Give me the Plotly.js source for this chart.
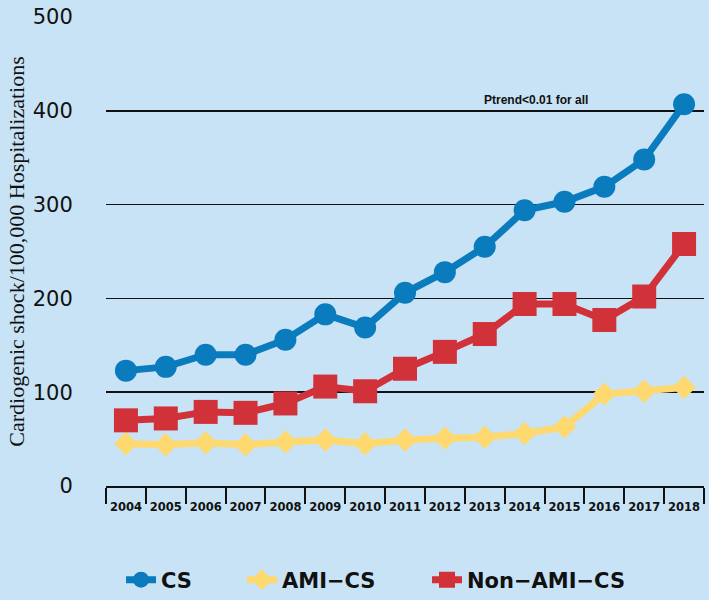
<!DOCTYPE html>
<html>
<head>
<meta charset="utf-8">
<script src="https://cdn.plot.ly/plotly-3.0.1.min.js"></script>
<style>html,body{margin:0;padding:0;background:#c8e3f5;}#chart{width:709px;height:600px;}</style>
</head>
<body>
<div id="chart"></div>
<script>
const years = ['2004','2005','2006','2007','2008','2009','2010','2011','2012','2013','2014','2015','2016','2017','2018'];
const csValues = [123, 127, 140, 140, 156, 183, 169, 206, 228, 255, 294, 303, 319, 348, 407];
const amiCsValues = [45, 44, 46, 44, 47, 49, 45, 49, 51, 52, 56, 63, 98, 101, 105];
const nonAmiCsValues = [70, 72, 79, 78, 88, 106, 101, 125, 143, 162, 194, 194, 177, 202, 258];
const seriesNames = ['CS', 'AMI\u2212CS', 'Non\u2212AMI\u2212CS'];
const yTicks = [0, 100, 200, 300, 400, 500];
const noteText = 'Ptrend<0.01 for all';

const bg = '#c8e3f5';
const traces = [
  {x: years, y: csValues, name: seriesNames[0], type: 'scatter', mode: 'lines+markers',
   line: {color: '#0a7bbd', width: 7}, marker: {symbol: 'circle', size: 22, color: '#0a7bbd'},
   cliponaxis: false, legend: 'legend'},
  {x: years, y: amiCsValues, name: seriesNames[1], type: 'scatter', mode: 'lines+markers',
   line: {color: '#fed96f', width: 7}, marker: {symbol: 'diamond', size: 18, color: '#fed96f'},
   cliponaxis: false, legend: 'legend2'},
  {x: years, y: nonAmiCsValues, name: seriesNames[2], type: 'scatter', mode: 'lines+markers',
   line: {color: '#d13139', width: 7}, marker: {symbol: 'square', size: 24, color: '#d13139'},
   cliponaxis: false, legend: 'legend3'}
];
const data = [traces[1], traces[2], traces[0]];

const legFont = {family: 'DejaVu Sans', size: 21, color: '#111', weight: 'bold'};
function leg(xpx) {
  return {xref: 'container', yref: 'container', x: xpx / 709, y: 1 - 580 / 600,
          xanchor: 'left', yanchor: 'middle', orientation: 'h', bgcolor: 'rgba(0,0,0,0)',
          font: legFont, borderwidth: 0};
}

const layout = {
  width: 709, height: 600,
  paper_bgcolor: bg, plot_bgcolor: bg,
  margin: {l: 106, r: 5, t: 17, b: 114},
  showlegend: true,
  legend: leg(121),
  legend2: leg(242),
  legend3: leg(427),
  xaxis: {
    type: 'category', categoryarray: years, range: [-0.5, 14.5],
    tickson: 'boundaries', ticks: 'outside', ticklen: 16, tickwidth: 2, tickcolor: '#111',
    showline: true, linecolor: '#111', linewidth: 2, showgrid: false, zeroline: false,
    tickangle: 0,
    tickfont: {family: 'DejaVu Sans', size: 11.5, color: '#111', weight: 'bold'},
    ticklabelstandoff: 9, fixedrange: true
  },
  yaxis: {
    range: [0, 500], tickvals: yTicks, ticktext: yTicks.map(String),
    showgrid: true, gridcolor: '#111', gridwidth: 1.5, zeroline: false, showline: false,
    ticks: 'outside', ticklen: 28, tickcolor: 'rgba(0,0,0,0)',
    tickfont: {family: 'DejaVu Sans', size: 21, color: '#111'},
    title: {text: 'Cardiogenic shock/100,000 Hospitalizations',
            font: {family: 'Liberation Serif', size: 22, color: '#111'}, standoff: 2},
    fixedrange: true
  },
  annotations: [{
    text: noteText, xref: 'paper', yref: 'y', x: (536 - 106) / 598, y: 411,
    showarrow: false, xanchor: 'center', yanchor: 'middle',
    font: {family: 'Liberation Sans', size: 12, color: '#111', weight: 'bold'}
  }]
};
Plotly.newPlot('chart', data, layout, {displayModeBar: false, staticPlot: true});
</script>
</body>
</html>
